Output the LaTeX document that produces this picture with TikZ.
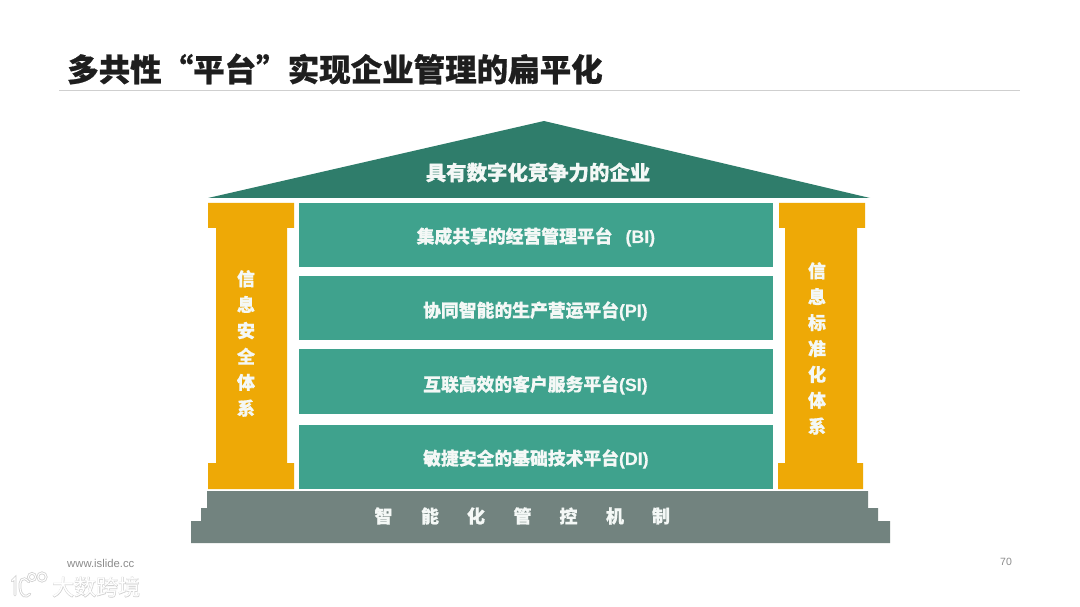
\documentclass[tikz,border=0pt]{standalone}
\usepackage{fontspec}
\setmainfont{Liberation Sans}
\newfontfamily\cjk[BoldFeatures={FakeBold=0.7}]{Noto Sans CJK SC}
\newfontfamily\cjkfat[FakeBold=3]{Noto Sans CJK SC}
\newfontfamily\latinbold[BoldFeatures={FakeBold=0.3}]{Liberation Sans}
\definecolor{roofgreen}{HTML}{2F7D6B}
\definecolor{bargreen}{HTML}{3FA28D}
\definecolor{pillar}{HTML}{EEA906}
\definecolor{basegrey}{HTML}{72837F}
\definecolor{rulegrey}{HTML}{CFCFCF}
\definecolor{titleink}{HTML}{1E1E1E}
\definecolor{foot}{HTML}{8C8C8C}
\definecolor{wm}{HTML}{CFCFCF}
\definecolor{softwhite}{HTML}{F4F8F6}
\newcommand{\lat}[1]{{\latinbold\bfseries #1}}
\tikzset{
  x=1pt,y=-1pt,
  barbox/.style={fill=bargreen,draw=none},
  bartext/.style={text=softwhite,font=\cjk\bfseries\fontsize{17.8}{22}\selectfont,inner sep=0pt,anchor=west},
  pillartext/.style={text=softwhite,font=\cjk\bfseries\fontsize{18}{25.9}\selectfont,inner sep=0pt,align=center,anchor=center},
  basetext/.style={text=softwhite,font=\cjk\bfseries\fontsize{18}{22}\selectfont,inner sep=0pt,anchor=center},
  wmline/.style={draw=wm,line width=2.6pt,fill=none,line cap=round},
  wmcore/.style={draw=white,line width=1.1pt,fill=none,line cap=round}
}
\begin{document}
\begin{tikzpicture}
\useasboundingbox (0,0) rectangle (1080,607);
\fill[white] (0,0) rectangle (1080,607);
% title
\node[anchor=west,inner sep=0pt,text=titleink,font=\cjk\bfseries\fontsize{31.5}{36}\selectfont] (title) at (67,69) {多共性“平台”实现企业管理的扁平化};
\coordinate (ruleL) at (59,91); \coordinate (ruleR) at (1020,91);
\draw[rulegrey,line width=1pt] (ruleL) -- (ruleR);
% roof
\fill[roofgreen] (208,198) -- (544,121) -- (870,198) -- cycle;
\node[text=softwhite,inner sep=0pt,font=\cjk\bfseries\fontsize{20.4}{24}\selectfont] (roof) at (538,172.5) {具有数字化竞争力的企业};
% bars
\fill[barbox] (299,203) rectangle (773,267);
\fill[barbox] (299,276) rectangle (773,340);
\fill[barbox] (299,349) rectangle (773,414);
\fill[barbox] (299,425) rectangle (773,489);
\node[bartext] (bi) at (416.5,237) {集成共享的经营管理平台\hspace{13pt}\lat{(BI)}};
\node[bartext] (pi) at (423,311) {协同智能的生产营运平台\lat{(PI)}};
\node[bartext] (si) at (423,385) {互联高效的客户服务平台\lat{(SI)}};
\node[bartext] (di) at (423,459) {敏捷安全的基础技术平台\lat{(DI)}};
% pillars
\fill[pillar] (208,203) -- (294,203) -- (294,228) -- (287,228) -- (287,463) -- (294,463) -- (294,489) -- (208,489) -- (208,463) -- (216,463) -- (216,228) -- (208,228) -- cycle;
\fill[pillar] (779,203) -- (865,203) -- (865,228) -- (857,228) -- (857,463) -- (863,463) -- (863,489) -- (778,489) -- (778,463) -- (785,463) -- (785,228) -- (779,228) -- cycle;
\node[pillartext] (leftp) at (246,343.5) {信\\息\\安\\全\\体\\系};
\node[pillartext] (rightp) at (817,348.5) {信\\息\\标\\准\\化\\体\\系};
% base
\fill[basegrey] (207,491) -- (868,491) -- (868,508) -- (878,508) -- (878,521) -- (890,521) -- (890,543) -- (191,543) -- (191,521) -- (201,521) -- (201,508) -- (207,508) -- cycle;
\node[basetext] (b1) at (383.5,516) {智};
\node[basetext] (b2) at (430,516) {能};
\node[basetext] (b3) at (476,516) {化};
\node[basetext] (b4) at (522.5,516) {管};
\node[basetext] (b5) at (568.5,516) {控};
\node[basetext] (b6) at (615,516) {机};
\node[basetext] (b7) at (661,516) {制};
% footer
\node[anchor=west,inner sep=0pt,text=foot,font=\fontsize{11.3}{13}\selectfont] (url) at (67,563) {www.islide.cc};
\node[inner sep=0pt,text=foot,font=\fontsize{10.5}{12}\selectfont] (page) at (1006,562) {70};
% watermark
\foreach \st in {wmline,wmcore}{
  \draw[\st] (12,581) -- (15,578) -- (15,595);
  \draw[\st] (29,582) .. controls (22,574) and (19,582) .. (20,588) .. controls (21,597) and (26,598) .. (30,594);
  \draw[\st] (32,577) circle[radius=3.6];
  \draw[\st] (42,577) circle[radius=4.2];
}
\node[inner sep=0pt,anchor=west,text=wm,font=\cjkfat\fontsize{22}{24}\selectfont] (wmA) at (52,587) {大数跨境};
\node[inner sep=0pt,anchor=west,text=white,font=\cjk\fontsize{22}{24}\selectfont] (wmB) at (52,587) {大数跨境};
\end{tikzpicture}
\end{document}
